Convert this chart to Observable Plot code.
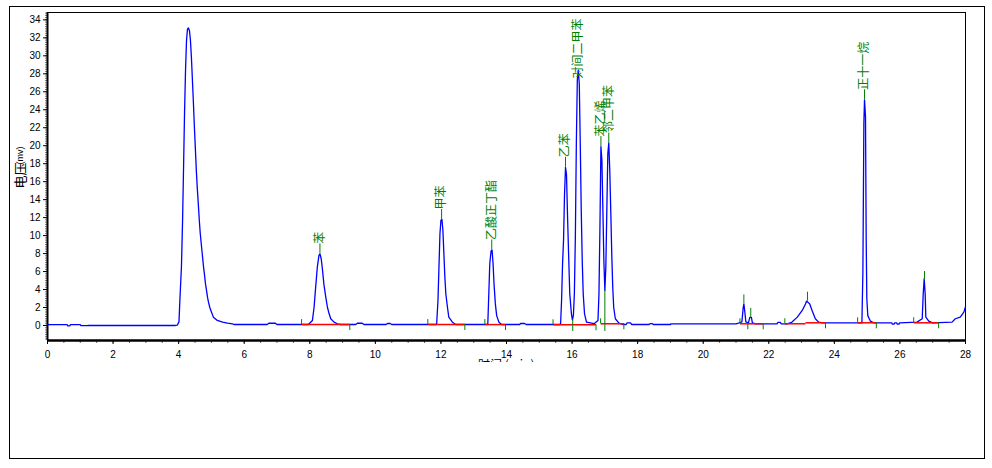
<!DOCTYPE html>
<html><head><meta charset="utf-8">
<script src="https://cdn.jsdelivr.net/npm/d3@7"></script>
<script src="https://cdn.jsdelivr.net/npm/@observablehq/plot@0.6"></script>
<style>
body{margin:0;background:#fff;}
#wrap{position:relative;width:992px;height:468px;background:#fff;}
#outer{position:absolute;left:9px;top:6px;width:976px;height:453px;border:1px solid #000;box-sizing:border-box;pointer-events:none;}
#xlab{position:absolute;left:478px;top:359px;width:60px;height:3px;overflow:hidden;color:#000;white-space:nowrap;}
#xlab span{display:block;font:12px/12px "Noto Sans CJK SC";margin-top:-1px;}
</style></head><body>
<div id="wrap"><div id="outer"></div><div id="xlab"><span>时间 (min)</span></div></div>
<script>
// ---- data ----
const trace = [
[0,0.1],[0.6,0.1],[0.62,-0.05],[0.68,-0.05],[0.7,0.1],[1.0,0.1],[1.02,-0.02],[1.2,-0.02],[1.25,0.0],[3.9,0.0],[3.96,0.05],
[4.01,0.4],[4.04,3.0],[4.085,6.5],[4.12,11.7],[4.15,17.6],[4.18,23.7],[4.21,28.4],[4.24,31.7],[4.27,33.0],[4.30,33.1],[4.33,32.8],[4.36,31.7],[4.39,29.8],[4.42,27.3],[4.45,24.8],[4.48,22.1],[4.51,19.7],[4.54,17.2],[4.57,15.2],[4.60,13.5],[4.63,11.7],[4.66,10.2],[4.70,8.7],[4.73,7.6],[4.76,6.5],[4.79,5.6],[4.82,4.6],[4.85,3.9],[4.88,3.15],[4.91,2.6],[4.95,2.0],[5.0,1.5],[5.06,0.93],[5.18,0.56],[5.34,0.37],[5.49,0.26],[5.64,0.19],[5.69,0.11],
[6.7,0.11],[6.75,0.25],[6.95,0.25],[7.0,0.11],[7.95,0.11],
[7.98,0.19],[8.08,0.56],[8.13,2.0],[8.18,4.3],[8.23,6.5],[8.28,7.8],[8.31,7.97],[8.35,7.4],[8.39,6.1],[8.43,4.6],[8.49,3.1],[8.54,2.0],[8.59,1.3],[8.64,0.75],[8.74,0.37],[8.84,0.19],[8.95,0.11],
[9.4,0.11],[9.45,0.25],[9.6,0.25],[9.65,0.11],[10.33,0.11],[10.37,0.22],[10.45,0.22],[10.5,0.11],[11.85,0.11],
[11.87,0.2],[11.91,2.8],[11.94,6.5],[11.97,10.2],[12.0,11.7],[12.03,11.8],[12.06,10.6],[12.09,8.0],[12.12,5.4],[12.15,3.5],[12.2,2.0],[12.24,0.93],[12.35,0.37],[12.45,0.11],
[13.4,0.11],[13.43,0.2],[13.46,3.5],[13.49,6.9],[13.53,8.3],[13.56,8.4],[13.59,6.9],[13.62,4.6],[13.66,2.4],[13.70,1.1],[13.77,0.37],[13.85,0.11],
[14.4,0.11],[14.43,0.22],[14.55,0.22],[14.6,0.11],[15.62,0.11],
[15.65,0.2],[15.68,2.8],[15.71,6.9],[15.74,9.5],[15.77,14.6],[15.80,17.6],[15.83,16.8],[15.86,12.4],[15.90,7.2],[15.93,3.5],[15.98,1.3],[16.01,0.63],[16.04,1.1],[16.07,3.5],[16.10,9.8],[16.13,20.2],[16.16,27.3],[16.19,28.4],[16.22,26.9],[16.25,20.2],[16.28,12.8],[16.31,7.2],[16.34,3.5],[16.38,1.3],[16.44,0.37],[16.67,0.2],
[16.79,0.56],[16.82,3.5],[16.85,10.9],[16.88,19.9],[16.91,18.4],[16.94,12.8],[16.97,7.2],[17.0,3.9],[17.03,6.5],[17.06,12.8],[17.09,19.1],[17.12,20.3],[17.15,17.2],[17.18,12.8],[17.21,8.0],[17.24,4.3],[17.27,2.0],[17.32,0.75],[17.43,0.26],[17.55,0.11],
[17.65,0.11],[17.68,0.3],[17.78,0.3],[17.82,0.11],[18.35,0.11],[18.38,0.2],[18.45,0.2],[18.48,0.11],[19.0,0.11],[19.02,0.19],
[21.0,0.19],[21.1,0.3],[21.18,0.4],[21.22,2.0],[21.24,2.4],[21.27,1.5],[21.3,0.4],[21.38,0.3],[21.42,0.9],[21.47,0.9],[21.5,0.3],[21.6,0.19],
[22.25,0.19],[22.28,0.35],[22.35,0.35],[22.38,0.19],[22.56,0.19],[22.7,0.35],[22.87,0.93],[23.02,1.67],[23.12,2.4],[23.15,2.7],[23.19,2.6],[23.25,2.4],[23.32,1.67],[23.42,0.75],[23.52,0.37],[23.65,0.3],
[24.84,0.3],[24.87,5.9],[24.9,22.5],[24.92,25.1],[24.95,23.2],[24.97,10],[24.99,3.0],[25.02,1.1],[25.1,0.48],[25.2,0.3],
[25.75,0.3],[25.77,0.15],[25.82,0.15],[25.84,0.3],[25.9,0.3],[25.92,0.15],[25.97,0.15],[25.99,0.3],
[26.52,0.37],[26.68,0.75],[26.71,3.5],[26.74,5.2],[26.77,3.5],[26.79,0.93],[26.88,0.48],[27.0,0.3],
[27.59,0.37],[27.69,0.75],[27.84,0.93],[27.95,1.48],[28.0,2.1]
];

const peakNames   = ["苯","甲苯","乙酸正丁酯","乙苯","对间二甲苯","苯乙烯","邻二甲苯","正十一烷"];
const peakTimes   = [8.31, 12.02, 13.55, 15.80, 16.19, 16.88, 17.12, 24.92];
const peakHeights = [7.97, 11.8, 8.4, 17.6, 28.4, 19.9, 20.3, 25.1];

const minorPeakTimes   = [21.24, 21.45, 23.18, 26.75];
const minorPeakHeights = [2.4, 0.9, 2.7, 5.0];

// integration baselines: [tStart, vStart, tEnd, vEnd]
const baselines = [
[7.75,0.1,9.22,0.1],[11.6,0.1,12.73,0.1],[13.34,0.1,13.97,0.1],[15.42,0.08,16.73,0.08],
[16.87,0.19,17.58,0.19],[21.12,0.19,21.83,0.19],[22.49,0.19,23.12,0.19],[23.12,0.3,23.73,0.3],
[24.71,0.3,25.28,0.3],[26.42,0.3,27.18,0.3]
];
const startTicks = [7.75, 11.6, 13.34, 15.42, 16.87, 21.12, 22.49, 24.71, 26.42];
const startTickV = [0.1, 0.1, 0.1, 0.08, 0.19, 0.19, 0.19, 0.3, 0.3];
const endTicks   = [9.22, 12.73, 13.97, 16.73, 17.58, 21.36, 21.83, 23.73, 25.28, 27.18];
const endTickV   = [0.1, 0.1, 0.1, 0.08, 0.19, 0.19, 0.19, 0.3, 0.3, 0.3];
const dropTimes  = [16.02, 17.0];
const dropTops   = [0.63, 3.9];

const xTicks = d3.range(0, 29, 2);
const yTicks = d3.range(0, 35, 2);

// ---- layout ----
const W = 992, H = 468, mT = 12, mB = 128, mL = 47, mR = 27;
const yMin = -1.67, yMax = 34.82;
const ppu = (H - mB - mT) / (yMax - yMin);
const yPx = v => mT + (yMax - v) * ppu;
const yVal = px => yMax - (px - mT) / ppu;

const labeled = peakNames.map((name, i) => {
  const apexPx = yPx(peakHeights[i]);
  const bottomPx = Math.max(apexPx - 10, 18 + name.length * 12);
  return {name, t: peakTimes[i], v: peakHeights[i], lv: yVal(bottomPx)};
});
const minor = minorPeakTimes.map((t, i) => ({t, v: minorPeakHeights[i]}));
const starts = startTicks.map((t, i) => ({t, v: startTickV[i]}));
const ends = endTicks.map((t, i) => ({t, v: endTickV[i]}));
const drops = dropTimes.map((t, i) => ({t, v: dropTops[i]}));

const green = "#008000";

const chart = Plot.plot({
  width: W, height: H,
  marginTop: mT, marginBottom: mB, marginLeft: mL, marginRight: mR,
  style: {fontFamily: "Liberation Sans, Arial, sans-serif", fontSize: "10px", background: "transparent", color: "#000"},
  x: {domain: [0, 28], label: null},
  y: {domain: [yMin, yMax], label: null},
  marks: [
    Plot.frame({stroke: "#000", strokeWidth: 1}),
    Plot.axisY(d3.range(-1.5, 34.8, 0.25), {tickSize: 2, text: null, stroke: "#777", label: null}),
    Plot.axisY(yTicks, {tickSize: 4, tickPadding: 3, fontSize: 10, label: null}),
    Plot.axisX(d3.range(0, 28.01, 0.5), {tickSize: 3, text: null, stroke: "#666", label: null}),
    Plot.axisX(xTicks, {tickSize: 4, tickPadding: 6, fontSize: 10, label: null}),
    Plot.ruleX([0], {stroke: "#000", strokeWidth: 2}),
    Plot.ruleY([yMin], {stroke: "#000", strokeWidth: 2.5}),
    Plot.line(trace, {x: d => d[0], y: d => d[1], stroke: "#0000ff", strokeWidth: 1.3}),
    Plot.link(baselines, {x1: d => d[0], y1: d => d[1], x2: d => d[2], y2: d => d[3], stroke: "#ff0000", strokeWidth: 1.5}),
    Plot.ruleX(starts, {x: "t", y1: "v", y2: d => d.v + 5 / ppu, stroke: green, strokeWidth: 1}),
    Plot.ruleX(ends, {x: "t", y1: "v", y2: d => d.v - 6 / ppu, stroke: green, strokeWidth: 1}),
    Plot.ruleX(drops, {x: "t", y1: "v", y2: d => -6 / ppu, stroke: green, strokeWidth: 1}),
    Plot.ruleX(minor, {x: "t", y1: "v", y2: d => d.v + 9 / ppu, stroke: green, strokeWidth: 1}),
    Plot.ruleX(labeled.filter(d => d.lv > d.v), {x: "t", y1: "v", y2: "lv", stroke: green, strokeWidth: 1}),
    Plot.text(labeled, {x: "t", y: "lv", text: "name", rotate: -90, textAnchor: "start", lineAnchor: "middle",
      fill: green, fontSize: 12, fontFamily: "Noto Sans CJK SC"}),
    Plot.text(["电压"], {frameAnchor: "left", dx: -27, dy: 12, rotate: -90, fontSize: 13, fontFamily: "Noto Sans CJK SC", fill: "#000"}),
    Plot.text(["(mv)"], {frameAnchor: "left", dx: -27, dy: -12, rotate: -90, fontSize: 9, fontFamily: "Liberation Sans, Arial", fill: "#000"})
  ]
});
const wrap = document.getElementById("wrap");
wrap.insertBefore(chart, wrap.firstChild);
</script>
</body></html>
